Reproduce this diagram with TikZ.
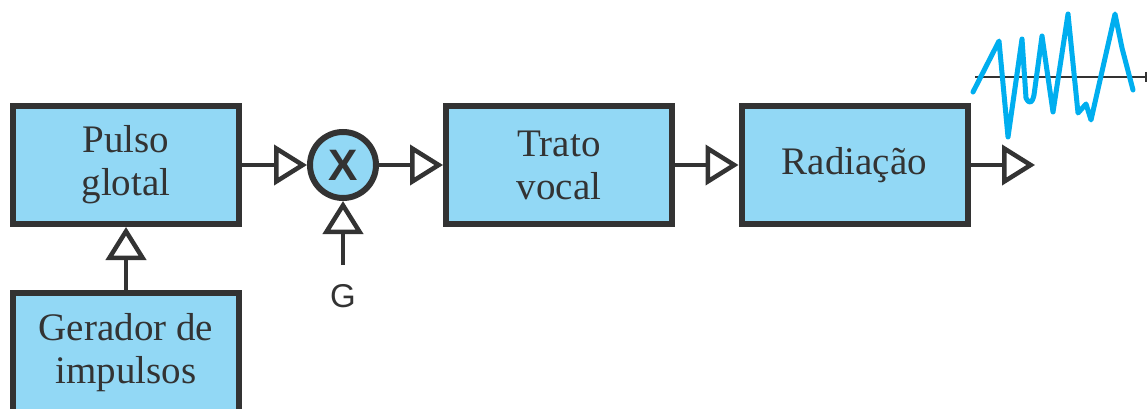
\documentclass[tikz,border=0pt]{standalone}
\usepackage{fontspec}
\setmainfont{Liberation Serif}
\newfontfamily\sansf{Liberation Sans}
\usetikzlibrary{arrows.meta}
\definecolor{boxfill}{HTML}{92D8F5}
\definecolor{edgec}{HTML}{333333}
\definecolor{wavec}{HTML}{00AEEF}
\begin{document}
\begin{tikzpicture}[x=1pt,y=-1pt,
  blk/.style={draw=edgec, fill=boxfill, line width=6pt, minimum width=226pt, minimum height=118pt,
    inner sep=0pt, align=center, text=edgec, font=\fontsize{39}{43}\selectfont},
  conn/.style={draw=edgec, line width=4.5pt, -{Triangle[open, length=33pt, width=40pt]}},
  lbl/.style={text=edgec, inner sep=0pt},
]
\useasboundingbox (0,0) rectangle (1147,409);
\node[blk] (pulso) at (126,165) {Pulso\\glotal};
\node[blk, minimum height=120pt] (gerador) at (126,353) {Gerador de\\impulsos};
\node[blk] (trato) at (559,165) {Trato\\vocal};
\node[blk] (rad) at (854.5,165) {Radiação};
\node[draw=edgec, fill=boxfill, line width=6pt, circle, minimum size=66pt, inner sep=0pt,
  text=edgec, font=\sansf\bfseries\fontsize{44}{44}\selectfont] (mul) at (343,165) {X};
\coordinate (gin) at (343,265);
\coordinate (out) at (1035,165);
\node[lbl, font=\sansf\fontsize{33}{33}\selectfont] (glbl) at (343,296) {G};
\draw[conn] (gerador.north) -- (pulso.south);
\draw[conn] (pulso.east) -- (mul.west);
\draw[conn] (mul.east) -- (trato.west);
\draw[conn] (gin) -- (mul.south);
\draw[conn] (trato.east) -- (rad.west);
\draw[conn] (rad.east) -- (out);
% waveform
\draw[edgec, line width=1.6pt] (975,77) -- (1147,77);
\draw[edgec, line width=1.6pt] (1146,72) -- (1146,82);
\draw[wavec, line width=5pt, line join=round, line cap=round]
  (973,92) -- (999,41) -- (1008,137) -- (1022,39) -- (1026,98) .. controls (1029,104) and (1032,104) .. (1034,95)
  -- (1042,36) -- (1053,112) -- (1068,14) -- (1078,113) -- (1086,104) -- (1091,120)
  -- (1115,14) -- (1122,48) -- (1133,90);
\end{tikzpicture}
\end{document}
